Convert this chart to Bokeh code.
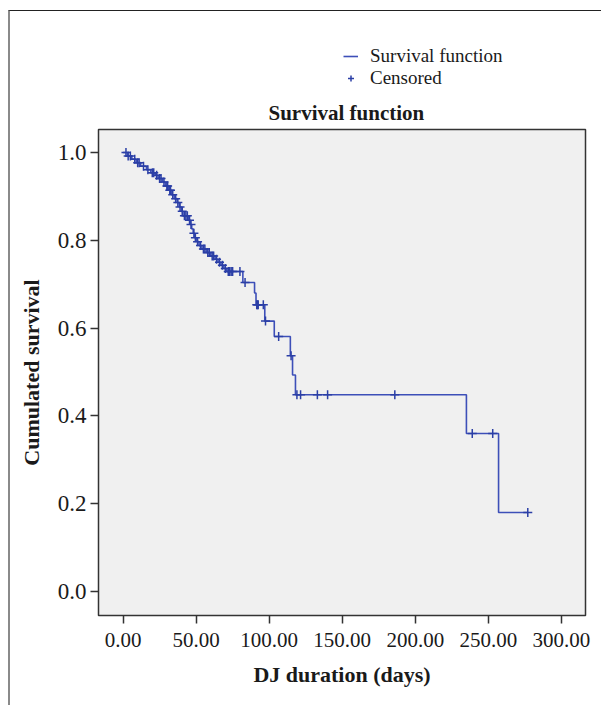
from bokeh.plotting import figure
from bokeh.layouts import column
from bokeh.models import Range1d, FixedTicker, CustomJSTickFormatter, Legend, LegendItem
from bokeh.embed import file_html
from bokeh.resources import INLINE

# Kaplan-Meier step function (time of drop, survival after drop)
step_days = [0, 3, 6, 9, 12, 16, 19, 22, 24, 27, 29, 31, 33, 35, 37, 38.5, 40, 41,
             45, 46, 47, 48, 49, 50.5, 52, 54, 57, 60, 63, 65, 67, 69, 71,
             82, 90, 91, 97, 103.5, 114.5, 116, 118, 235, 257, 277]
step_surv = [1.0, 0.992, 0.985, 0.977, 0.969, 0.961, 0.954, 0.948, 0.941, 0.933, 0.924,
             0.914, 0.904, 0.895, 0.886, 0.876, 0.866, 0.856,
             0.846, 0.836, 0.826, 0.816, 0.806, 0.797, 0.788, 0.780, 0.772, 0.764,
             0.757, 0.750, 0.743, 0.736, 0.729,
             0.704, 0.680, 0.653, 0.616, 0.581, 0.537, 0.493, 0.448, 0.360, 0.180, 0.180]

# Censored observations
censor_days = [2, 3.5, 5, 8, 10, 11, 14, 17, 20, 21, 23, 25, 26, 28, 30, 30.5, 32, 32.5,
               34, 36, 37.5, 39, 40.5, 42, 43, 44, 45.5, 46.5, 48.5, 49.5, 51, 53, 55,
               56, 58, 59, 61, 62, 64, 66, 68, 70, 72, 73, 74, 75, 80,
               83.5, 91.5, 92, 92.5, 96, 97.5, 106.5, 115, 119, 121.5, 133, 140, 186,
               239, 253, 277]
censor_surv = [1.0, 0.992, 0.992, 0.985, 0.977, 0.977, 0.969, 0.961, 0.954, 0.954, 0.948,
               0.941, 0.941, 0.933, 0.924, 0.924, 0.914, 0.914,
               0.904, 0.895, 0.886, 0.876, 0.866, 0.856, 0.856, 0.856, 0.846, 0.836,
               0.816, 0.806, 0.797, 0.788, 0.780,
               0.780, 0.772, 0.772, 0.764, 0.764, 0.757, 0.750, 0.743, 0.736, 0.729,
               0.729, 0.729, 0.729, 0.729,
               0.704, 0.653, 0.653, 0.653, 0.653, 0.616, 0.581, 0.537, 0.448, 0.448,
               0.448, 0.448, 0.448, 0.360, 0.360, 0.180]

x_ticks = [0, 50, 100, 150, 200, 250, 300]
y_ticks = [0.0, 0.2, 0.4, 0.6, 0.8, 1.0]

BLUE = "#3d4fb8"
CROSS = "#2b3fa6"
SERIF = "Liberation Serif"
TXT = "#1a1a1a"

# ---- main chart ----
p = figure(width=591, height=614, output_backend="svg", toolbar_location=None,
           x_range=Range1d(-16.8, 316.5), y_range=Range1d(-0.0548, 1.0525),
           min_border_left=88, min_border_right=16, min_border_top=38,
           min_border_bottom=90, background_fill_color="#f0f0f0",
           border_fill_color="white", outline_line_color="#333333",
           outline_line_width=1.5, title="Survival function")

p.grid.visible = False

p.step(step_days, step_surv, mode="after", line_color=BLUE, line_width=1.6)
p.scatter(censor_days, censor_surv, marker="cross", size=9,
          line_color=CROSS, line_width=1.5)

for ax in (p.xaxis[0], p.yaxis[0]):
    ax.axis_line_color = None
    ax.major_tick_in = 0
    ax.major_tick_out = 8
    ax.major_tick_line_color = "#333333"
    ax.major_tick_line_width = 1.5
    ax.minor_tick_line_color = None
    ax.major_label_text_font = SERIF
    ax.major_label_text_color = TXT
    ax.axis_label_text_font = SERIF
    ax.axis_label_text_font_size = "22px"
    ax.axis_label_text_font_style = "bold"
    ax.axis_label_text_color = TXT

p.xaxis.major_label_text_font_size = "21px"
p.yaxis.major_label_text_font_size = "23px"
p.xaxis.ticker = FixedTicker(ticks=x_ticks)
p.yaxis.ticker = FixedTicker(ticks=y_ticks)
p.xaxis.formatter = CustomJSTickFormatter(code="return tick.toFixed(2);")
p.yaxis.formatter = CustomJSTickFormatter(code="return tick.toFixed(1);")
p.xaxis.axis_label = "DJ duration (days)"
p.yaxis.axis_label = "Cumulated survival"
p.xaxis.major_label_standoff = 9
p.xaxis.axis_label_standoff = 12
p.yaxis.major_label_standoff = 4
p.yaxis.axis_label_standoff = 11

p.title.text_font = SERIF
p.title.text_font_size = "21px"
p.title.text_font_style = "bold"
p.title.text_color = TXT
p.title.align = "left"
p.title.offset = 170
p.title.standoff = 10

# ---- legend strip above the chart (frame aligned with the chart's frame) ----
lg = figure(width=591, height=80, output_backend="svg", toolbar_location=None,
            x_range=Range1d(0, 1), y_range=Range1d(0, 1),
            x_axis_location=None, y_axis_location=None,
            min_border_left=0, min_border_right=0, min_border_top=0,
            min_border_bottom=0, outline_line_color=None,
            background_fill_color="white", border_fill_color="white")
lg.grid.visible = False
leg_line = lg.line([-5, -4], [-5, -4], line_color=BLUE, line_width=1.6)
leg_cross = lg.scatter([-5], [-5], marker="cross", size=15, line_color=CROSS,
                       line_width=1.5)

legend = Legend(items=[LegendItem(label="Survival function", renderers=[leg_line]),
                       LegendItem(label="Censored", renderers=[leg_cross])],
                location=(245, 2), orientation="vertical",
                label_text_font=SERIF, label_text_font_size="19px",
                label_text_color=TXT, glyph_width=15, glyph_height=22,
                label_height=22, spacing=0, padding=0, margin=0,
                label_standoff=12, border_line_color=None,
                background_fill_alpha=0)
lg.add_layout(legend, "center")

layout = column(lg, p, spacing=0, margin=(10, 0, 0, 8),
                styles={"border-top": "1.5px solid #222222",
                        "border-left": "2px solid #8a8a8a"})

open("out.html", "w").write(file_html(layout, INLINE))
